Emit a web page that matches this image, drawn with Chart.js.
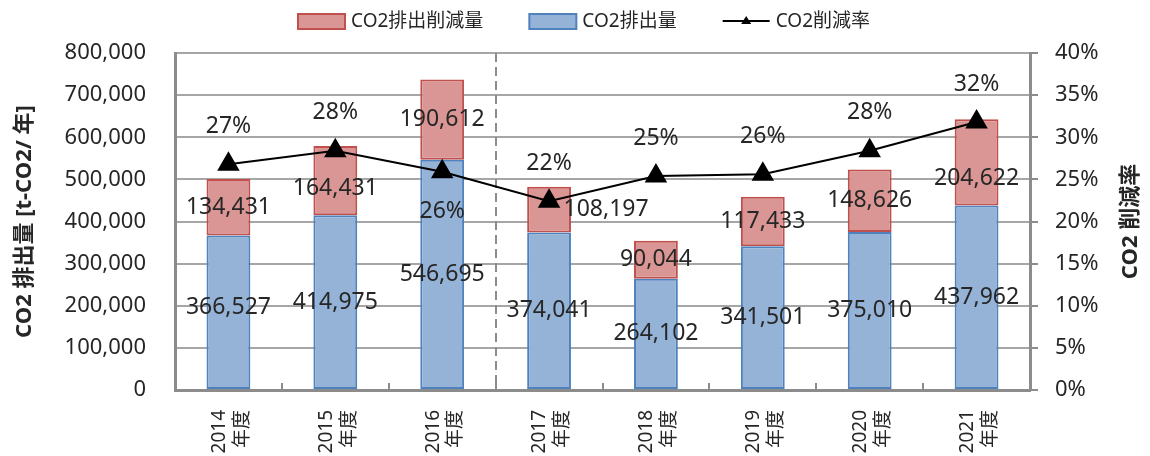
<!DOCTYPE html>
<html lang="ja">
<head>
  <meta charset="UTF-8">
  <title>CO2排出量と削減量</title>
  <script src="https://cdn.jsdelivr.net/npm/chart.js"></script>
  <style>
    html, body { margin: 0; padding: 0; background: #fff; }
    .chart-box { width: 1150px; height: 456px; position: relative; }
  </style>
</head>
<body>
  <div class="chart-box"><canvas id="co2Chart"></canvas></div>

  <script>
    // data
    const years = ['2014', '2015', '2016', '2017', '2018', '2019', '2020', '2021'];
    const emission = [366527, 414975, 546695, 374041, 264102, 341501, 375010, 437962];
    const reduction = [134431, 164431, 190612, 108197, 90044, 117433, 148626, 204622];
    const reductionRate = [26.8, 28.4, 25.9, 22.4, 25.4, 25.6, 28.4, 31.8];

    const textColor = '#262626';
    Chart.defaults.font.family = '"Noto Sans", "Noto Sans CJK JP", sans-serif';
    Chart.defaults.color = textColor;

    // value labels (Excel style placement)
    const valueLabels = {
      id: 'valueLabels',
      afterDatasetsDraw(chart) {
        const ctx = chart.ctx;
        ctx.save();
        ctx.font = '23px "Noto Sans", sans-serif';
        ctx.fillStyle = textColor;
        ctx.textAlign = 'center';
        ctx.textBaseline = 'middle';
        chart.data.datasets.forEach((ds, i) => {
          const meta = chart.getDatasetMeta(i);
          meta.data.forEach((el, j) => {
            const v = ds.data[j];
            if (meta.type === 'bar') {
              let dx = 0, dy = 0;
              if (ds.label === 'CO2排出削減量') {
                if (j === 3) dx = 57;
                if (j === 7) dy = 16;
                if (j === 1) dy = 8;
              } else if (j === 0) {
                dy = -5;
              }
              ctx.fillText(v.toLocaleString('en-US'), el.x + dx, (el.y + el.base) / 2 + dy);
            } else {
              const dy = j === 2 ? 40 : -38;
              ctx.fillText(Math.round(v) + '%', el.x, el.y + dy);
            }
          });
        });
        ctx.restore();
      }
    };

    // dashed divider between 2016 and 2017, inner ticks on the x axis, right title, legend
    const extras = {
      id: 'extras',
      beforeDatasetsDraw(chart) {
        const ctx = chart.ctx;
        const x = chart.scales.x;
        const area = chart.chartArea;
        const half = (x.getPixelForValue(1) - x.getPixelForValue(0)) / 2;
        ctx.save();
        ctx.strokeStyle = '#8c8c8c';
        ctx.lineWidth = 2;
        for (let i = 0; i < years.length - 1; i++) {
          const px = Math.round(x.getPixelForValue(i) + half);
          ctx.beginPath();
          ctx.moveTo(px, area.bottom);
          ctx.lineTo(px, area.bottom - 7);
          ctx.stroke();
        }
        const dvx = Math.round(x.getPixelForValue(2) + half);
        ctx.setLineDash([9, 5]);
        ctx.beginPath();
        ctx.moveTo(dvx, area.top);
        ctx.lineTo(dvx, area.bottom);
        ctx.stroke();
        ctx.restore();
      },
      afterDraw(chart) {
        const ctx = chart.ctx;
        const area = chart.chartArea;
        ctx.save();
        // right axis title, reading bottom to top
        ctx.translate(1131, (area.top + area.bottom) / 2);
        ctx.rotate(-Math.PI / 2);
        ctx.font = 'bold 22px "Noto Sans", "Noto Sans CJK JP", sans-serif';
        ctx.fillStyle = textColor;
        ctx.textAlign = 'center';
        ctx.textBaseline = 'middle';
        ctx.fillText('CO2 削減率', 0, 0);
        ctx.restore();

        // legend
        const ds = chart.data.datasets;
        const items = [ds[1], ds[0], ds[2]];
        ctx.save();
        ctx.font = '19px "Noto Sans", "Noto Sans CJK JP", sans-serif';
        ctx.textBaseline = 'middle';
        const boxW = 47, gap = 6, spacing = 46, cy = 21;
        const widths = items.map(d => ctx.measureText(d.label).width);
        const total = widths.reduce((a, w) => a + boxW + gap + w, 0) + spacing * (items.length - 1);
        let lx = (chart.width - total) / 2 + 9;
        items.forEach((d, k) => {
          if (d.type === 'line') {
            ctx.strokeStyle = d.borderColor;
            ctx.lineWidth = 2;
            ctx.beginPath();
            ctx.moveTo(lx, cy);
            ctx.lineTo(lx + boxW, cy);
            ctx.stroke();
            ctx.fillStyle = d.borderColor;
            ctx.beginPath();
            ctx.moveTo(lx + boxW / 2, cy - 5);
            ctx.lineTo(lx + boxW / 2 + 5, cy + 3);
            ctx.lineTo(lx + boxW / 2 - 5, cy + 3);
            ctx.closePath();
            ctx.fill();
          } else {
            ctx.fillStyle = d.backgroundColor;
            ctx.fillRect(lx, cy - 7, boxW, 15);
            ctx.strokeStyle = d.borderColor;
            ctx.lineWidth = 2;
            ctx.strokeRect(lx, cy - 7, boxW, 15);
          }
          ctx.fillStyle = textColor;
          ctx.fillText(d.label, lx + boxW + gap, cy + 1);
          lx += boxW + gap + widths[k] + spacing;
        });
        ctx.restore();
      }
    };

    const ctx = document.getElementById('co2Chart').getContext('2d');
    const co2Chart = new Chart(ctx, {
      type: 'bar',
      data: {
        labels: years.map(y => [y, '年度']),
        datasets: [
          {
            label: 'CO2排出量',
            data: emission,
            backgroundColor: '#95B3D7',
            borderColor: '#4F81BD',
            borderWidth: 2,
            borderSkipped: false,
            barPercentage: 0.41,
            categoryPercentage: 1,
            stack: 'co2',
            order: 1
          },
          {
            label: 'CO2排出削減量',
            data: reduction,
            backgroundColor: '#D99694',
            borderColor: '#C0504D',
            borderWidth: 2,
            borderSkipped: false,
            barPercentage: 0.41,
            categoryPercentage: 1,
            stack: 'co2',
            order: 1
          },
          {
            type: 'line',
            label: 'CO2削減率',
            data: reductionRate,
            yAxisID: 'y1',
            borderColor: '#000',
            borderWidth: 2,
            pointStyle: 'triangle',
            pointRadius: 11,
            pointBackgroundColor: '#000',
            pointBorderColor: '#000',
            tension: 0,
            order: 0
          }
        ]
      },
      options: {
        responsive: true,
        maintainAspectRatio: false,
        animation: false,
        layout: { padding: { top: 53, left: 0, right: 0, bottom: 0 } },
        plugins: {
          legend: { display: false },
          tooltip: { enabled: false }
        },
        scales: {
          x: {
            stacked: true,
            grid: { display: false },
            border: { color: '#8c8c8c', width: 3 },
            ticks: {
              minRotation: 90,
              maxRotation: 90,
              autoSkip: false,
              padding: 12,
              labelOffset: -9,
              font: { size: 19 }
            },
            afterFit(s) { s.height = 66; }
          },
          y: {
            stacked: true,
            min: 0,
            max: 800000,
            ticks: {
              stepSize: 100000,
              padding: 29,
              font: { size: 22 },
              callback: v => v.toLocaleString('en-US')
            },
            grid: { color: '#a6a6a6', lineWidth: 2, drawTicks: false },
            border: { color: '#8c8c8c', width: 3 },
            title: {
              display: true,
              text: 'CO2 排出量 [t-CO2/ 年]',
              font: { size: 22, weight: 'bold' },
              padding: { top: 12, bottom: 0 }
            },
            afterFit(s) { s.width = 175; }
          },
          y1: {
            position: 'right',
            min: 0,
            max: 40,
            ticks: {
              stepSize: 5,
              padding: 17,
              font: { size: 22 },
              callback: v => v + '%'
            },
            grid: { drawOnChartArea: false, color: '#8c8c8c', lineWidth: 2, tickLength: 8 },
            border: { color: '#8c8c8c', width: 3 },
            afterFit(s) { s.width = 120; }
          }
        }
      },
      plugins: [valueLabels, extras]
    });
  </script>
</body>
</html>
